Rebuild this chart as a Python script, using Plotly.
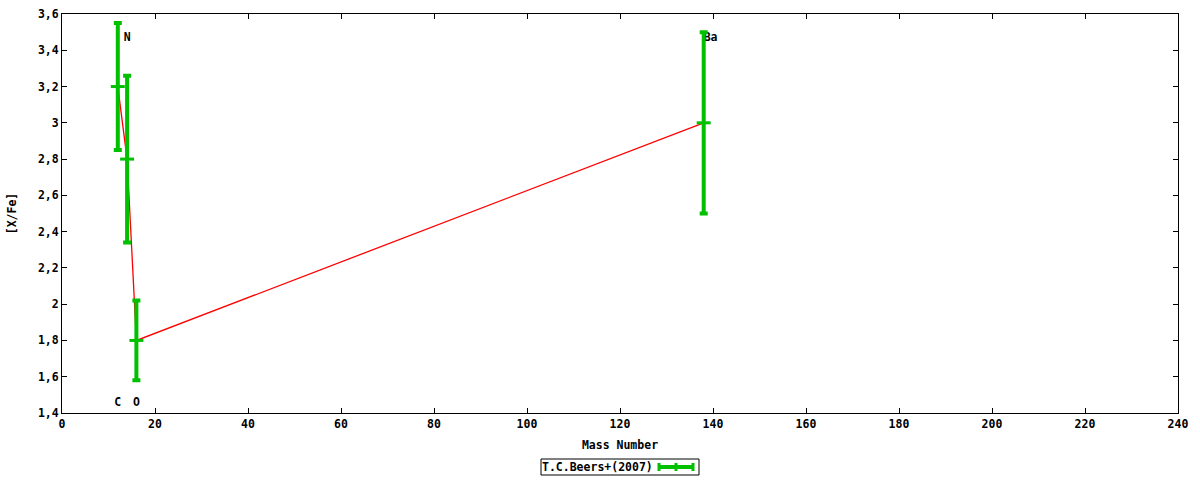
import plotly.graph_objects as go

# Data
elements = ["C", "N", "O", "Ba"]
mass_number = [12, 14, 16, 138]
x_fe = [3.2, 2.8, 1.8, 3.0]
x_fe_err = [0.35, 0.46, 0.22, 0.5]
label_y = [1.455, 3.465, 1.455, 3.465]
x_ticks = [0, 20, 40, 60, 80, 100, 120, 140, 160, 180, 200, 220, 240]
y_ticks = [1.4, 1.6, 1.8, 2.0, 2.2, 2.4, 2.6, 2.8, 3.0, 3.2, 3.4, 3.6]
series_name = "T.C.Beers+(2007)"

GREEN = "#00c000"
FONT = dict(family="DejaVu Sans Mono", size=11.5, color="black", weight="bold")

fig = go.Figure()

# element labels (under the bars)
fig.add_trace(go.Scatter(
    x=mass_number, y=label_y, mode="text", text=elements,
    textposition=["middle center", "middle center", "middle center", "middle right"],
    textfont=FONT, showlegend=False,
    hoverinfo="skip", cliponaxis=False))

# connecting red line
fig.add_trace(go.Scatter(
    x=mass_number, y=x_fe, mode="lines",
    line=dict(color="#ff0000", width=1.3), showlegend=False))

# error bars
fig.add_trace(go.Scatter(
    x=mass_number, y=x_fe, mode="markers", name=series_name,
    marker=dict(symbol="line-ew", size=10, color=GREEN,
                line=dict(color=GREEN, width=3)),
    error_y=dict(type="data", array=x_fe_err, visible=True,
                 color=GREEN, thickness=4, width=4),
    showlegend=False))

axis_common = dict(
    showgrid=False, zeroline=False, showline=True, linecolor="black",
    linewidth=1, mirror="ticks", ticks="inside", ticklen=5,
    tickcolor="black", tickfont=FONT, automargin=False)

fig.update_xaxes(range=[0, 240], tickvals=x_ticks,
                 title=dict(text="Mass Number", font=FONT, standoff=11),
                 **axis_common)
fig.update_yaxes(range=[1.4, 3.6], tickvals=y_ticks,
                 title=dict(text="[X/Fe]", font=FONT, standoff=18),
                 **axis_common)

# manual gnuplot-style legend (text first, then sample)
fig.add_annotation(
    xref="paper", yref="paper", x=(597 - 62) / 1116, y=-(467 - 413) / 399,
    text=series_name, showarrow=False, font=FONT,
    xanchor="center", yanchor="middle")
fig.add_shape(type="rect", xref="paper", yref="paper",
              x0=(541 - 62) / 1116, x1=(699 - 62) / 1116,
              y0=-(475 - 413) / 399, y1=-(459 - 413) / 399,
              line=dict(color="black", width=1))
fig.add_shape(type="line", xref="paper", yref="paper",
              x0=(659 - 62) / 1116, x1=(693 - 62) / 1116,
              y0=-(467 - 413) / 399, y1=-(467 - 413) / 399,
              line=dict(color=GREEN, width=4))
for px in (659, 676, 693):
    fig.add_shape(type="line", xref="paper", yref="paper",
                  x0=(px - 62) / 1116, x1=(px - 62) / 1116,
                  y0=-(471 - 413) / 399, y1=-(463 - 413) / 399,
                  line=dict(color=GREEN, width=3))

fig.update_layout(
    width=1200, height=480, autosize=False,
    margin=dict(l=62, r=22, t=14, b=67, pad=0),
    plot_bgcolor="white", paper_bgcolor="white",
    separators=",.", showlegend=False, font=FONT)

fig.write_html("out.html", config={"displayModeBar": False},
               post_script="document.body.style.margin='0';document.body.style.padding='0';")
